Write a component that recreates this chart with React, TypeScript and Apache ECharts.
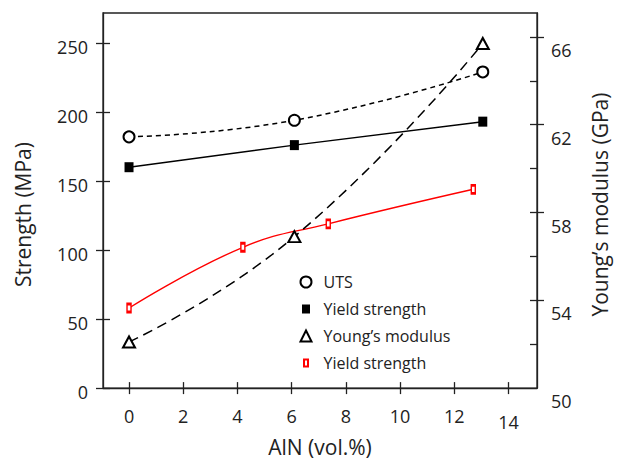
import React, { useEffect, useRef } from "react";
import * as echarts from "echarts";

// AlN content (vol.%) and measured values
const utsX = [0, 6.1, 13.05];
const utsY = [182, 194, 229];
const yieldX = [0, 6.1, 13.05];
const yieldY = [160, 176, 193];
const youngX = [0, 6.1, 13.05];
const youngY = [52.1, 56.9, 65.7];
const redX = [0, 4.2, 7.35, 12.7];
const redY = [58, 102, 119, 144];

const xTicks = [0, 2, 4, 6, 8, 10, 12, 14];
const leftTicks = [0, 50, 100, 150, 200, 250];
const rightMajor = [54, 58, 62, 66];
const rightLabels = [50, 54, 58, 62, 66];
const rightAll = [52, 54, 56, 58, 60, 62, 64, 66];

const FONT = "Open Sans";
const AX = "#222";

const pairs = (xs: number[], ys: number[]) => xs.map((x, i) => [x, ys[i]]);

export default function App() {
  const ref = useRef<HTMLDivElement>(null);
  useEffect(() => {
    document.body.style.margin = "0";
    const chart = echarts.init(ref.current!, null, { renderer: "svg" });
    const axisLine = { show: true, onZero: false, lineStyle: { color: AX, width: 1.3 } };
    const noLine = { show: false, onZero: false };
    const xRange = { min: -0.96, max: 15.05 };
    const lRange = { min: 0, max: 271.7 };
    const rRange = { min: 50, max: 67.09 };
    chart.setOption({
      animation: false,
      textStyle: { fontFamily: FONT },
      grid: {
        left: 103,
        right: 77,
        top: 13,
        bottom: 73,
        show: true,
        borderColor: AX,
        borderWidth: 1.3,
        backgroundColor: "transparent",
      },
      legend: {
        orient: "vertical",
        left: 294.5,
        top: 267,
        itemWidth: 11,
        itemHeight: 11,
        itemGap: 7,
        selectedMode: false,
        formatter: (n: string) => (n.startsWith("Yield") ? "Yield strength" : n),
        textStyle: {
          fontFamily: FONT,
          fontSize: 16,
          color: "#222",
          lineHeight: 20,
          padding: [0, 0, 0, 7],
        },
        data: [
          { name: "UTS", icon: "circle", itemStyle: { color: "#fff", borderColor: "#000", borderWidth: 2 } },
          { name: "Yield strength", icon: "path://M0,0M11,11M1.5,1H9.5V10H1.5Z", itemStyle: { color: "#000", borderWidth: 0 } },
          { name: "Young’s modulus", icon: "triangle", itemStyle: { color: "#fff", borderColor: "#000", borderWidth: 2 } },
          { name: "Yield strength (red)", icon: "path://M0,0M11,11M3.5,2H7.5V9H3.5Z", itemStyle: { color: "#fff", borderColor: "#ff0000", borderWidth: 2 } },
        ],
      },
      xAxis: [
        {
          type: "value",
          position: "bottom",
          ...xRange,
          axisLine,
          splitLine: { show: false },
          axisTick: { show: true, inside: false, length: 6, customValues: xTicks, lineStyle: { color: AX, width: 1.3 } },
          axisLabel: {
            customValues: xTicks,
            margin: 19,
            fontSize: 18,
            color: "#222",
            fontFamily: FONT,
            formatter: (v: number) => (v === 14 ? "{d|14}" : String(v)),
            rich: { d: { fontSize: 18, fontFamily: FONT, color: "#222", padding: [6, 0, 0, 0] } },
          },
          name: "AlN (vol.%)",
          nameLocation: "middle",
          nameGap: 43,
          nameTextStyle: { fontSize: 21, color: "#222", fontFamily: FONT },
        },
        {
          type: "value",
          position: "bottom",
          ...xRange,
          axisLine: noLine,
          splitLine: { show: false },
          axisTick: { show: true, inside: true, length: 6, customValues: xTicks, lineStyle: { color: AX, width: 1.3 } },
          axisLabel: { show: false },
        },
      ],
      yAxis: [
        {
          type: "value",
          position: "left",
          ...lRange,
          axisLine,
          splitLine: { show: false },
          axisTick: { show: true, inside: false, length: 7, customValues: leftTicks, lineStyle: { color: AX, width: 1.3 } },
          axisLabel: {
            customValues: leftTicks,
            margin: 15,
            fontSize: 18,
            color: "#222",
            fontFamily: FONT,
            verticalAlign: "top",
            lineHeight: 8,
          },
          name: "Strength (MPa)",
          nameLocation: "middle",
          nameRotate: 90,
          nameGap: 70,
          nameTextStyle: { fontSize: 21, color: "#222", fontFamily: FONT, padding: [0, 28, 0, 0] },
        },
        {
          type: "value",
          position: "right",
          ...rRange,
          axisLine,
          splitLine: { show: false },
          axisTick: { show: true, inside: false, length: 7, customValues: rightMajor, lineStyle: { color: AX, width: 1.3 } },
          axisLabel: {
            customValues: rightLabels,
            margin: 14,
            fontSize: 18,
            color: "#222",
            fontFamily: FONT,
            verticalAlign: "top",
            lineHeight: 26,
          },
          name: "Young’s modulus (GPa)",
          nameLocation: "middle",
          nameRotate: 90,
          nameGap: 52,
          nameTextStyle: { fontSize: 21, color: "#222", fontFamily: FONT, padding: [0, 8, 0, 0] },
        },
        {
          type: "value",
          position: "left",
          ...lRange,
          axisLine: noLine,
          splitLine: { show: false },
          axisTick: { show: true, inside: true, length: 7, customValues: leftTicks, lineStyle: { color: AX, width: 1.3 } },
          axisLabel: { show: false },
        },
        {
          type: "value",
          position: "right",
          ...rRange,
          axisLine: noLine,
          splitLine: { show: false },
          axisTick: { show: true, inside: true, length: 7, customValues: rightAll, lineStyle: { color: AX, width: 1.3 } },
          axisLabel: { show: false },
        },
      ],
      series: [
        {
          name: "Yield strength (red)",
          type: "line",
          xAxisIndex: 0,
          yAxisIndex: 0,
          data: pairs(redX, redY),
          smooth: 0.45,
          symbol: "rect",
          symbolSize: [4, 8],
          lineStyle: { color: "#ff0000", width: 1.4 },
          itemStyle: { color: "#fff", borderColor: "#ff0000", borderWidth: 2 },
          silent: true,
          z: 2,
        },
        {
          name: "Young’s modulus",
          type: "line",
          xAxisIndex: 0,
          yAxisIndex: 1,
          data: pairs(youngX, youngY),
          smooth: true,
          symbol: "triangle",
          symbolSize: [12, 11],
          lineStyle: { color: "#000", width: 1.5, type: [10, 6] },
          itemStyle: { color: "#fff", borderColor: "#000", borderWidth: 2 },
          silent: true,
          z: 3,
        },
        {
          name: "UTS",
          type: "line",
          xAxisIndex: 0,
          yAxisIndex: 0,
          data: pairs(utsX, utsY),
          smooth: true,
          symbol: "circle",
          symbolSize: 11,
          lineStyle: { color: "#000", width: 1.5, type: [5, 4] },
          itemStyle: { color: "#fff", borderColor: "#000", borderWidth: 2 },
          silent: true,
          z: 4,
        },
        {
          name: "Yield strength",
          type: "line",
          xAxisIndex: 0,
          yAxisIndex: 0,
          data: pairs(yieldX, yieldY),
          smooth: false,
          symbol: "rect",
          symbolSize: [9, 10],
          lineStyle: { color: "#000", width: 1.5 },
          itemStyle: { color: "#000" },
          silent: true,
          z: 5,
        },
      ],
    });
    return () => chart.dispose();
  }, []);
  return <div ref={ref} style={{ width: 618, height: 462 }} />;
}
